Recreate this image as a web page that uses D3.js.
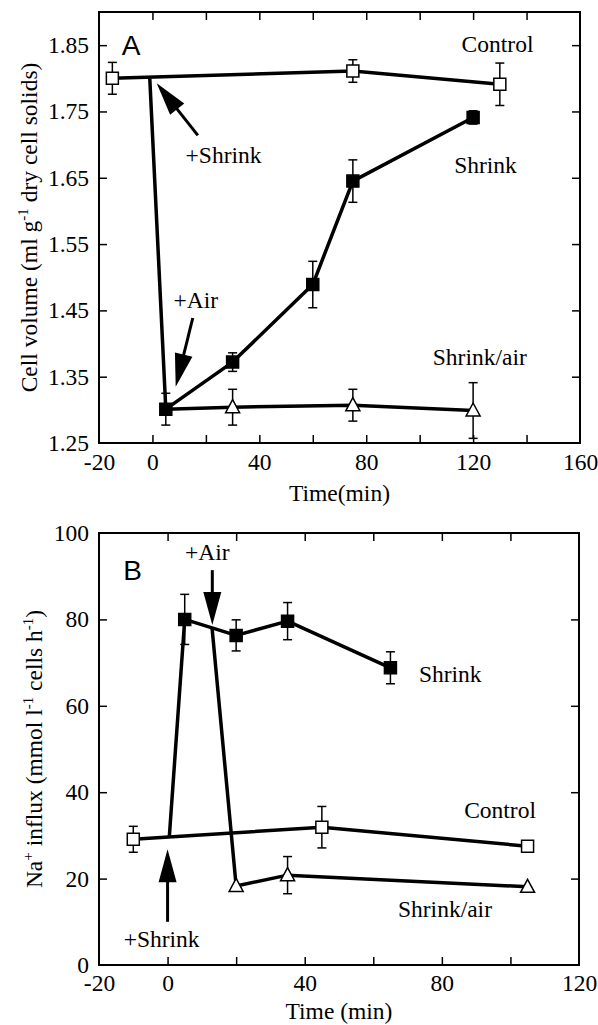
<!DOCTYPE html>
<html>
<head>
<meta charset="utf-8">
<script src="https://cdn.jsdelivr.net/npm/d3@7"></script>
<style>
  body { margin: 0; background: #fff; }
  svg { display: block; }
  svg text { font-family: "Liberation Serif", Tinos, "Times New Roman", "DejaVu Serif", serif; }
  svg text.letter { font-family: "Liberation Sans", Arimo, Arial, sans-serif; }
</style>
</head>
<body>
<div id="wrapper"></div>
<script>

// 1. Data

// panel A - cell volume
const controlTimeA = [-15, 75, 130]
const controlVolA = [1.800, 1.811, 1.791]
const controlErrA = [0.024, 0.017, 0.032]

const shrinkTimeA = [5, 30, 60, 75, 120]
const shrinkVolA = [1.301, 1.372, 1.489, 1.645, 1.741]
const shrinkErrA = [0.024, 0.014, 0.035, 0.032, 0.010]

const airTimeA = [30, 75, 120]
const airVolA = [1.304, 1.307, 1.299]
const airErrA = [0.027, 0.024, 0.042]

// points where the shrink and shrink/air traces branch off
const shrinkStartA = [-1, 1.800]
const airStartA = [5, 1.301]

const xTicksA = [-20, 0, 40, 80, 120, 160]
const xMinorA = [20, 60, 100, 140]
const yTicksA = [1.25, 1.35, 1.45, 1.55, 1.65, 1.75, 1.85]

// panel B - Na+ influx
const controlTimeB = [-10, 45, 105]
const controlFluxB = [29.1, 31.9, 27.5]
const controlErrB = [3.0, 4.8, 0]

const shrinkTimeB = [5, 20, 35, 65]
const shrinkFluxB = [80.0, 76.3, 79.6, 68.8]
const shrinkErrB = [5.8, 3.6, 4.3, 3.7]

const airTimeB = [20, 35, 105]
const airFluxB = [18.3, 20.8, 18.1]
const airErrB = [0, 4.3, 0]

const shrinkStartB = [0.5, 29.6]
const airStartB = [13, 77.8]

const xTicksB = [-20, 0, 40, 80, 120]
const xMinorB = [20, 60, 100]
const yTicksB = [0, 20, 40, 60, 80, 100]

// annotations (in data units)
const labelTextA = ["Control", "Shrink", "Shrink/air", "+Shrink", "+Air"]
const labelAtA = [[115.7, 1.840], [112.9, 1.657], [104.9, 1.368], [12.4, 1.672], [7.9, 1.454]]
const arrowFromA = [[17.0, 1.714], [15.1, 1.4385]]
const arrowToA = [[1.6, 1.7925], [8.7, 1.335]]

const labelTextB = ["Shrink", "Control", "Shrink/air", "+Shrink", "+Air"]
const labelAtB = [[73.3, 65.6], [86.5, 34.0], [67.2, 11.2], [-12.8, 4.2], [5.1, 93.75]]
const arrowFromB = [[13.05, 91.4], [0, 10.0]]
const arrowToB = [[13.05, 78.7], [0, 26.8]]

async function drawChart() {

  const fontSize = 23.5

  // 2. Chart dimensions
  const dimensions = { width: 598, height: 1025 }

  const wrapper = d3.select("#wrapper")
    .append("svg")
    .attr("width", dimensions.width)
    .attr("height", dimensions.height)

  const zip = (ts, vs, es) => ts.map((t, i) => ({ t: t, v: vs[i], e: es[i] }))

  const drawPanel = (p) => {
    const bounds = wrapper.append("g")
      .attr("transform", `translate(${p.left}, ${p.top})`)

    const w = p.right - p.left
    const h = p.bottom - p.top

    const xScale = d3.scaleLinear().domain(p.xDomain).range([0, w])
    const yScale = d3.scaleLinear().domain(p.yDomain).range([h, 0])

    // axes, ticks point inward
    const styleAxis = g => {
      g.select(".domain").remove()
      g.selectAll(".tick line").attr("stroke-width", 1.5)
      g.attr("font-family", null).attr("font-size", fontSize)
      g.selectAll("text").attr("fill", "#000")
    }

    bounds.append("g")
      .attr("transform", `translate(0, ${h})`)
      .call(d3.axisBottom(xScale).tickValues(p.xTicks).tickSizeInner(-8).tickSizeOuter(0).tickPadding(p.xPad).tickFormat(d => String(d)))
      .call(styleAxis)
      .call(g => g.selectAll(".tick line").filter(d => d === p.xDomain[0] || d === p.xDomain[1]).remove())

    bounds.append("g")
      .attr("transform", `translate(0, ${h})`)
      .call(d3.axisBottom(xScale).tickValues(p.xMinor).tickSizeInner(-8).tickSizeOuter(0).tickFormat(""))
      .call(styleAxis)

    const innerX = p.xTicks.concat(p.xMinor).filter(d => d > p.xDomain[0] && d < p.xDomain[1])
    bounds.append("g")
      .call(d3.axisTop(xScale).tickValues(innerX).tickSizeInner(-8).tickSizeOuter(0).tickFormat(""))
      .call(styleAxis)

    bounds.append("g")
      .call(d3.axisLeft(yScale).tickValues(p.yTicks).tickSizeInner(-8).tickSizeOuter(0).tickPadding(10).tickFormat(p.yFormat))
      .call(styleAxis)
      .call(g => g.selectAll(".tick line").filter(d => d === p.yDomain[0] || d === p.yDomain[1]).remove())

    const innerY = p.yTicks.filter(d => d > p.yDomain[0] && d < p.yDomain[1])
    bounds.append("g")
      .attr("transform", `translate(${w}, 0)`)
      .call(d3.axisRight(yScale).tickValues(innerY).tickSizeInner(-8).tickSizeOuter(0).tickFormat(""))
      .call(styleAxis)

    bounds.append("rect")
      .attr("width", w)
      .attr("height", h)
      .attr("fill", "none")
      .attr("stroke", "#000")
      .attr("stroke-width", 2)

    // axis titles
    bounds.append("text")
      .attr("x", w / 2)
      .attr("y", h + p.xLabelGap)
      .attr("text-anchor", "middle")
      .attr("font-size", fontSize)
      .text(p.xLabel)

    const yLab = bounds.append("text")
      .attr("transform", `translate(${p.yLabelX}, ${h / 2}) rotate(-90)`)
      .attr("text-anchor", "middle")
      .attr("font-size", fontSize)
    p.yLabel.forEach(part => {
      yLab.append("tspan")
        .attr("font-size", part.sup ? 15 : fontSize)
        .attr("dy", part.sup ? -9 : (part.after ? 9 : 0))
        .text(part.text)
    })

    // lines
    const line = d3.line().x(d => xScale(d.t)).y(d => yScale(d.v))
    p.series.forEach(s => {
      const pts = (s.start ? [{ t: s.start[0], v: s.start[1] }] : []).concat(s.points)
      bounds.append("path")
        .datum(pts)
        .attr("d", line)
        .attr("fill", "none")
        .attr("stroke", "#000")
        .attr("stroke-width", 3.5)
        .attr("stroke-linejoin", "round")
    })

    // error bars
    p.series.forEach(s => {
      const bars = bounds.append("g")
        .selectAll("g")
        .data(s.points.filter(d => d.e > 0))
        .join("g")
      bars.append("line")
        .attr("x1", d => xScale(d.t)).attr("x2", d => xScale(d.t))
        .attr("y1", d => yScale(d.v - d.e)).attr("y2", d => yScale(d.v + d.e))
        .attr("stroke", "#000").attr("stroke-width", 1.5)
      bars.selectAll(".cap")
        .data(d => [d.v - d.e, d.v + d.e].map(v => ({ t: d.t, v: v })))
        .join("line")
        .attr("class", "cap")
        .attr("x1", d => xScale(d.t) - 4.5).attr("x2", d => xScale(d.t) + 4.5)
        .attr("y1", d => yScale(d.v)).attr("y2", d => yScale(d.v))
        .attr("stroke", "#000").attr("stroke-width", 1.5)
    })

    // markers
    p.series.forEach(s => {
      const marks = bounds.append("g")
        .selectAll("path")
        .data(s.points)
        .join("path")
        .attr("transform", d => `translate(${xScale(d.t)}, ${yScale(d.v)})`)
        .attr("stroke", "#000")
        .attr("stroke-width", 1.5)
        .attr("fill", s.marker === "filled" ? "#000" : "#fff")
      if (s.marker === "triangle") {
        marks.attr("d", "M0,-7.5L7,5.5L-7,5.5Z")
      } else {
        marks.attr("d", "M-6,-6H6V6H-6Z")
      }
    })

    // annotation texts
    p.labelText.forEach((txt, i) => {
      bounds.append("text")
        .attr("x", xScale(p.labelAt[i][0]))
        .attr("y", yScale(p.labelAt[i][1]))
        .attr("font-size", fontSize)
        .text(txt)
    })

    // arrows
    p.arrowFrom.forEach((from, i) => {
      const x0 = xScale(from[0]), y0 = yScale(from[1])
      const x1 = xScale(p.arrowTo[i][0]), y1 = yScale(p.arrowTo[i][1])
      const len = Math.hypot(x1 - x0, y1 - y0)
      const ux = (x1 - x0) / len, uy = (y1 - y0) / len
      const headLen = 33, headHalf = 9
      const bx = x1 - ux * headLen, by = y1 - uy * headLen
      bounds.append("line")
        .attr("x1", x0).attr("y1", y0)
        .attr("x2", bx + ux * 2).attr("y2", by + uy * 2)
        .attr("stroke", "#000").attr("stroke-width", 3)
      bounds.append("path")
        .attr("d", `M${x1},${y1}L${bx - uy * headHalf},${by + ux * headHalf}L${bx + uy * headHalf},${by - ux * headHalf}Z`)
        .attr("fill", "#000")
    })

    // panel letter
    bounds.append("text")
      .attr("class", "letter")
      .attr("x", xScale(p.letterAt[0]))
      .attr("y", yScale(p.letterAt[1]))
      .attr("font-size", 28)
      .text(p.letter)
  }

  // 3. Draw panels
  drawPanel({
    left: 99, top: 12, right: 580, bottom: 443,
    xDomain: [-20, 160], yDomain: [1.25, 1.90],
    xTicks: xTicksA, xMinor: xMinorA, yTicks: yTicksA,
    yFormat: d3.format(".2f"), xPad: 10,
    xLabel: "Time(min)", xLabelGap: 58,
    yLabelX: -62,
    yLabel: [
      { text: "Cell volume (ml g" },
      { text: "-1", sup: true },
      { text: " dry cell solids)", after: true },
    ],
    series: [
      { points: zip(controlTimeA, controlVolA, controlErrA), marker: "open" },
      { points: zip(shrinkTimeA, shrinkVolA, shrinkErrA), marker: "filled", start: shrinkStartA },
      { points: zip(airTimeA, airVolA, airErrA), marker: "triangle", start: airStartA },
    ],
    labelText: labelTextA, labelAt: labelAtA,
    arrowFrom: arrowFromA, arrowTo: arrowToA,
    letter: "A", letterAt: [-11.5, 1.835],
  })

  drawPanel({
    left: 99, top: 533, right: 579, bottom: 965,
    xDomain: [-20, 120], yDomain: [0, 100],
    xTicks: xTicksB, xMinor: xMinorB, yTicks: yTicksB,
    yFormat: d3.format("d"), xPad: 9,
    xLabel: "Time (min)", xLabelGap: 54,
    yLabelX: -57,
    yLabel: [
      { text: "Na" },
      { text: "+", sup: true },
      { text: " influx (mmol l", after: true },
      { text: "-1", sup: true },
      { text: " cells h", after: true },
      { text: "-1", sup: true },
      { text: ")", after: true },
    ],
    series: [
      { points: zip(controlTimeB, controlFluxB, controlErrB), marker: "open" },
      { points: zip(shrinkTimeB, shrinkFluxB, shrinkErrB), marker: "filled", start: shrinkStartB },
      { points: zip(airTimeB, airFluxB, airErrB), marker: "triangle", start: airStartB },
    ],
    labelText: labelTextB, labelAt: labelAtB,
    arrowFrom: arrowFromB, arrowTo: arrowToB,
    letter: "B", letterAt: [-12.9, 89.1],
  })
}

drawChart()
</script>
</body>
</html>
